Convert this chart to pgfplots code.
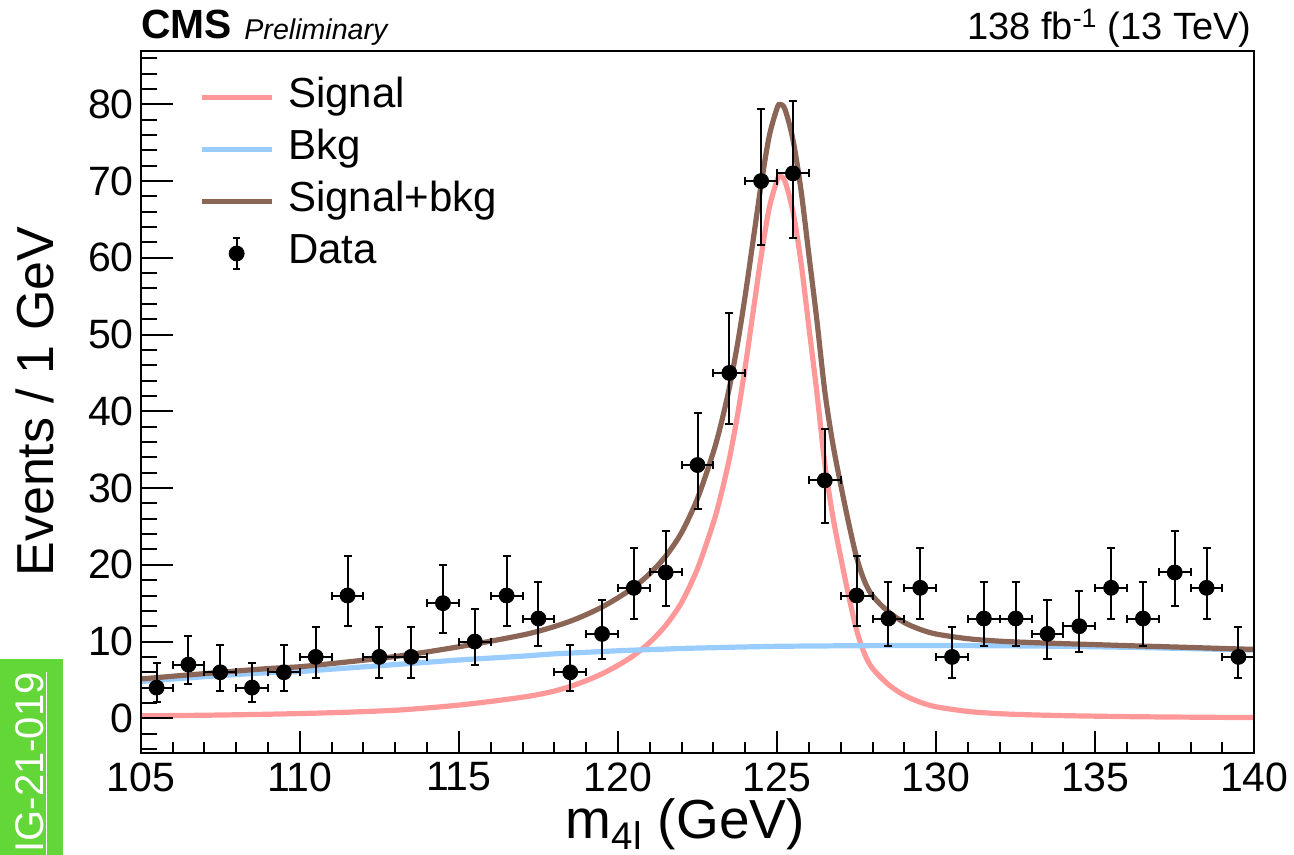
\documentclass[border=0pt]{standalone}
\usepackage{fontspec}
\setmainfont{Liberation Sans}
\usepackage{pgfplots}
\pgfplotsset{compat=1.18}
\usepackage{pgfplotstable}

\definecolor{sigpink}{RGB}{255,153,153}
\definecolor{bkgblue}{RGB}{153,204,255}
\definecolor{sbbrown}{RGB}{139,101,86}
\definecolor{cmsgreen}{RGB}{99,214,56}

\pgfplotstableread{
x y ex eyp eym
105.5 4 0.5 3.18 1.91
106.5 7 0.5 3.78 2.58
107.5 6 0.5 3.60 2.38
108.5 4 0.5 3.18 1.91
109.5 6 0.5 3.60 2.38
110.5 8 0.5 3.96 2.76
111.5 16 0.5 5.09 3.95
112.5 8 0.5 3.96 2.76
113.5 8 0.5 3.96 2.76
114.5 15 0.5 4.97 3.83
115.5 10 0.5 4.28 3.10
116.5 16 0.5 5.09 3.95
117.5 13 0.5 4.71 3.55
118.5 6 0.5 3.60 2.38
119.5 11 0.5 4.43 3.26
120.5 17 0.5 5.21 4.08
121.5 19 0.5 5.44 4.32
122.5 33 0.5 6.81 5.71
123.5 45 0.5 7.76 6.68
124.5 70 0.5 9.41 8.35
125.5 71 0.5 9.47 8.40
126.5 31 0.5 6.63 5.53
127.5 16 0.5 5.09 3.95
128.5 13 0.5 4.71 3.55
129.5 17 0.5 5.21 4.08
130.5 8 0.5 3.96 2.76
131.5 13 0.5 4.71 3.55
132.5 13 0.5 4.71 3.55
133.5 11 0.5 4.43 3.26
134.5 12 0.5 4.57 3.41
135.5 17 0.5 5.21 4.08
136.5 13 0.5 4.71 3.55
137.5 19 0.5 5.44 4.32
138.5 17 0.5 5.21 4.08
139.5 8 0.5 3.96 2.76
}\datatable

\pgfplotstableread{
x s b t
105 0.32 4.80 5.12
106 0.36 5.12 5.48
107 0.40 5.42 5.82
108 0.46 5.70 6.16
109 0.53 5.95 6.48
110 0.62 6.10 6.72
111 0.73 6.40 7.13
112 0.87 6.70 7.57
113 1.05 7.00 8.05
114 1.35 7.30 8.65
115 1.72 7.60 9.32
116 2.20 7.85 10.05
117 2.75 8.10 10.85
117.5 3.10 8.25 11.35
118 3.55 8.40 11.95
118.5 4.15 8.50 12.65
119 4.90 8.60 13.50
119.5 5.80 8.70 14.50
120 6.90 8.80 15.70
120.5 8.20 8.88 17.08
121 9.90 8.95 18.85
121.5 12.10 9.02 21.12
122 15.10 9.10 24.20
122.5 19.50 9.15 28.65
123 25.50 9.20 34.70
123.25 29.30 9.22 38.52
123.5 33.80 9.25 43.05
123.75 39.30 9.28 48.58
124 45.80 9.30 55.10
124.25 53.00 9.32 62.32
124.5 60.20 9.34 69.54
124.75 66.40 9.36 75.76
125 70.10 9.38 79.48
125.1 70.60 9.38 79.98
125.25 69.95 9.39 79.34
125.5 66.00 9.40 75.40
125.75 59.50 9.41 68.91
126 51.00 9.42 60.42
126.25 42.50 9.43 51.93
126.5 33.20 9.43 42.63
126.75 26.40 9.44 35.84
127 21.00 9.45 30.45
127.25 16.00 9.45 25.45
127.5 11.50 9.46 20.96
127.75 8.40 9.46 17.86
128 6.50 9.47 15.97
128.5 4.40 9.47 13.87
129 3.00 9.48 12.48
129.5 2.10 9.48 11.58
130 1.50 9.48 10.98
131 0.90 9.47 10.37
132 0.60 9.45 10.05
133 0.45 9.42 9.87
134 0.35 9.38 9.73
135 0.28 9.32 9.60
136 0.22 9.25 9.47
137 0.18 9.17 9.35
138 0.15 9.08 9.23
139 0.12 8.98 9.10
140 0.10 8.88 8.98
}\curvetable

\begin{document}
\begin{tikzpicture}
\path[use as bounding box] (-70.35pt,-51.15pt) rectangle (576.65pt,376.35pt);
\begin{axis}[
  name=main,
  scale only axis, width=556.8pt, height=351pt,
  xmin=105, xmax=140, ymin=-4.48, ymax=86.98,
  axis line style={line width=1pt, black},
  tick align=inside, xtick pos=lower, ytick pos=left,
  xtick={105,110,...,140}, minor xtick={106,...,139},
  ytick={0,10,...,80},
  major tick length=11pt, minor tick length=5.5pt,
  every tick/.style={black, line width=1pt},
  tick label style={font=\fontsize{20.5}{24}\selectfont},
  /pgf/number format/assume math mode=true,
  xticklabel style={yshift=-1.5pt},
  xlabel={m\textsubscript{4l} (GeV)},
  ylabel={Events / 1 GeV},
  every axis x label/.style={at={(axis description cs:0.489,-0.1222)}, anchor=base, inner sep=0pt, font=\fontsize{27.5}{32}\selectfont},
  every axis y label/.style={at={(axis description cs:-0.0779,0.5)}, rotate=90, anchor=base, font=\fontsize{26}{30}\selectfont},
  legend style={at={(axis description cs:0.0524,0.9611)}, anchor=north west, draw=none, fill=none, inner sep=0pt, outer sep=0pt,
    font=\fontsize{21}{25}\selectfont, row sep=6.5pt, column sep=7pt,
    nodes={inner sep=0pt, text height=15pt, text depth=4.5pt}},
  legend cell align=left,
  legend image code/.code={\draw[#1] (0pt,0pt) -- (35pt,0pt);},
]
\addplot[sigpink, line width=2.6pt, smooth] table[x=x, y=s]{\curvetable};
\addlegendentry{Signal}
\addplot[bkgblue, line width=2.6pt, smooth] table[x=x, y=b]{\curvetable};
\addlegendentry{Bkg}
\addplot[sbbrown, line width=2.6pt, smooth] table[x=x, y=t]{\curvetable};
\addlegendentry{Signal+bkg}
\addplot[only marks, mark=*, mark size=3.75pt, black,
  legend image code/.code={
    \draw[black, line width=1pt] (17.5pt,-7.75pt) -- (17.5pt,7.75pt);
    \draw[black, line width=1pt] (15.75pt,-7.75pt) -- (19.25pt,-7.75pt);
    \draw[black, line width=1pt] (15.75pt,7.75pt) -- (19.25pt,7.75pt);
    \fill[black] (17.5pt,0pt) circle (3.75pt);
  },
  error bars/.cd, x dir=both, x explicit, y dir=both, y explicit,
  error bar style={line width=1pt, black},
  error mark=-,
  error mark options={rotate=90, line width=1pt, mark size=2pt, black}]
  table[x=x, y=y, x error=ex, y error plus=eyp, y error minus=eym]{\datatable};
\addlegendentry{Data}
\end{axis}
\begin{axis}[
  scale only axis, width=556.8pt, height=351pt,
  xmin=105, xmax=140, ymin=-4.48, ymax=86.98,
  axis line style={line width=1pt, black},
  tick align=inside, ytick pos=left,
  xtick=\empty,
  ytick={0,10,...,80}, minor ytick={-4,-2,...,86},
  yticklabels={},
  major tick length=16pt, minor tick length=8pt,
  every tick/.style={black, line width=1pt},
]
\end{axis}
\node[anchor=base west, inner sep=0pt, yshift=6.2pt, font=\fontsize{20.4}{24}\selectfont\bfseries] at (main.north west) {CMS};
\node[anchor=base west, inner sep=0pt, yshift=5.35pt, xshift=51.65pt, font=\fontsize{14.3}{17}\selectfont\itshape] at (main.north west) {Preliminary};
\node[anchor=base east, inner sep=0pt, yshift=5.35pt, xshift=-1.15pt, font=\fontsize{19}{23}\selectfont] at (main.north east) {138 fb\textsuperscript{-1} (13 TeV)};
\node[rotate=90, anchor=east, fill=cmsgreen, text=white, font=\fontsize{20}{24}\selectfont, minimum height=31.5pt, inner xsep=6.5pt, inner ysep=0pt] at (-54.6pt,46.85pt) {\underline{CMS-PAS-HIG-21-019}};
\end{tikzpicture}
\end{document}
